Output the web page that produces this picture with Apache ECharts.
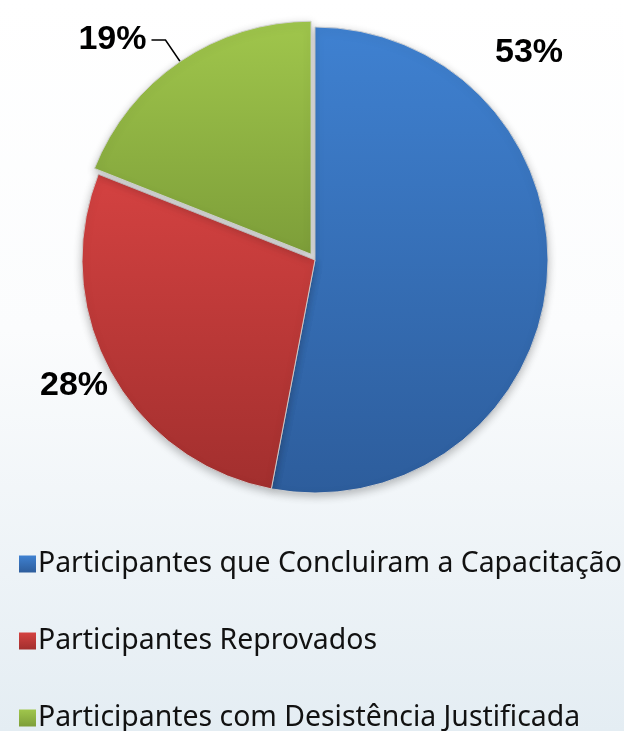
<!DOCTYPE html>
<html>
<head>
    <meta charset="utf-8">
    <script src="https://cdn.jsdelivr.net/npm/echarts@6/dist/echarts.min.js"></script>
    <style>
        html, body { margin: 0; padding: 0; }
    </style>
</head>
<body>
<div id="main" style="width: 624px;height:731px;"></div>
<script type="text/javascript">
    var categorias = ['Participantes que Concluiram a Capacitação', 'Participantes Reprovados', 'Participantes com Desistência Justificada'];
    var percentuais = [53, 28, 19];

    var cores = [
        ['#3f81d1', '#2d5d9c'],
        ['#d44241', '#a22f2e'],
        ['#a0c64c', '#7d9e39']
    ];

    function grad(c) {
        return new echarts.graphic.LinearGradient(0, 0, 0, 1, [
            { offset: 0, color: c[0] },
            { offset: 1, color: c[1] }
        ]);
    }

    var myChart = echarts.init(document.getElementById('main'));

    var dados = categorias.map(function (nome, i) {
        var item = {
            name: nome,
            value: percentuais[i],
            itemStyle: { color: grad(cores[i]) }
        };
        if (i === 2) {
            item.selected = true;
        } else {
            item.labelLine = { show: false };
        }
        return item;
    });

    // posições dos rótulos 53% e 28% (o de 19% fica na posição natural)
    var rotulos = { 0: [529, 53], 1: [74, 386] };

    // uma legenda por item, para o último não sumir no corte de baixo
    var legendas = categorias.map(function (nome, i) {
        return {
            orient: 'vertical',
            left: 14,
            top: 545 + i * 77,
            itemWidth: 17,
            itemHeight: 17,
            icon: 'rect',
            selectedMode: false,
            itemStyle: { borderWidth: 0, shadowBlur: 0, shadowOffsetY: 0 },
            textStyle: {
                fontFamily: 'Noto Sans',
                fontSize: 28.4,
                color: '#111',
                padding: [0, 0, 0, -3]
            },
            data: [nome]
        };
    });

    var option = {
        backgroundColor: new echarts.graphic.LinearGradient(0, 0, 0, 1, [
            { offset: 0, color: '#ffffff' },
            { offset: 0.45, color: '#fbfcfd' },
            { offset: 1, color: '#e4edf3' }
        ]),
        animation: false,
        legend: legendas,
        series: [{
            type: 'pie',
            center: [315, 260],
            radius: [0, 233],
            startAngle: 90,
            clockwise: true,
            selectedMode: 'multiple',
            selectedOffset: 7,
            avoidLabelOverlap: false,
            emphasis: { disabled: true },
            itemStyle: {
                borderColor: 'rgba(210,210,210,0.9)',
                borderWidth: 1,
                shadowBlur: 8,
                shadowOffsetY: 3,
                shadowColor: 'rgba(0,0,0,0.25)'
            },
            label: {
                show: true,
                position: 'outside',
                formatter: '{c}%',
                fontFamily: 'Arial, Liberation Sans',
                fontWeight: 'bold',
                fontSize: 34,
                color: '#000'
            },
            labelLine: {
                show: true,
                length: 26,
                length2: 14,
                lineStyle: { color: '#000', width: 1.5 }
            },
            labelLayout: function (p) {
                var pos = rotulos[p.dataIndex];
                if (pos) {
                    return { x: pos[0], y: pos[1], align: 'center', verticalAlign: 'middle' };
                }
                return {};
            },
            data: dados
        }]
    };

    myChart.setOption(option);
</script>
</body>
</html>
